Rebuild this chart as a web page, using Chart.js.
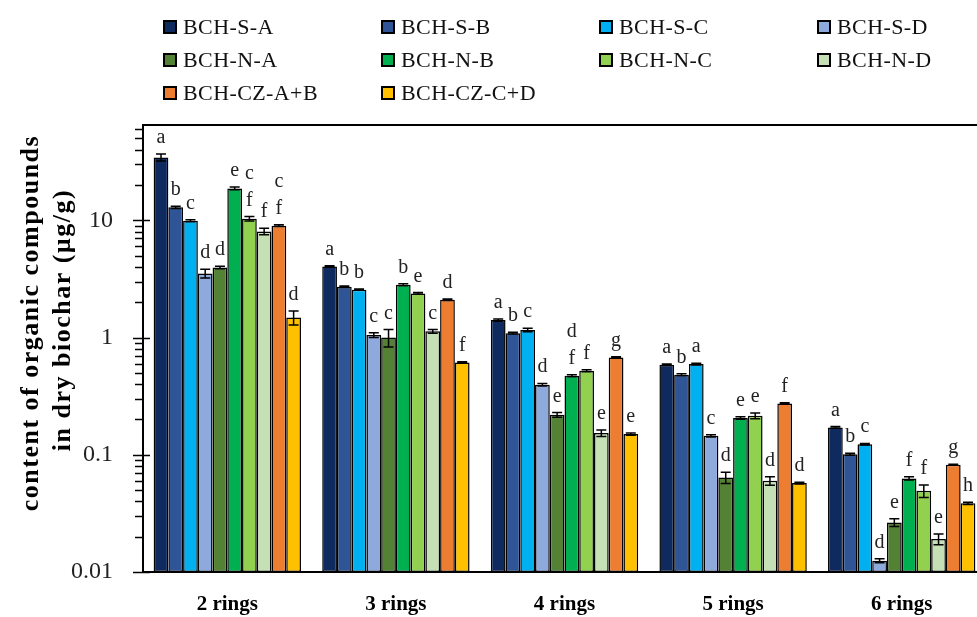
<!DOCTYPE html>
<html>
<head>
<meta charset="utf-8">
<script src="https://cdn.jsdelivr.net/npm/chart.js@4/dist/chart.umd.min.js"></script>
<style>
  html, body { margin: 0; padding: 0; background: #fff; overflow: hidden; width: 977px; height: 617px; }
  #wrap { position: relative; width: 1000px; height: 617px; }
  #c { position: absolute; left: 0; top: 0; }
  .lg { position: absolute; display: flex; align-items: center; height: 26px;
        font: 22px "Liberation Serif", serif; color: #111; white-space: nowrap; letter-spacing: 0.4px; }
  .lg i { display: inline-block; width: 10px; height: 10px; border: 2px solid #000; margin-right: 6px; }
</style>
</head>
<body>
<div id="wrap">
  <canvas id="c" width="1000" height="617"></canvas>
  <div id="legend"></div>
</div>
<script>
// PAH groups by number of aromatic rings
const categories = ['2 rings', '3 rings', '4 rings', '5 rings', '6 rings'];

// biochar samples
const seriesNames = ['BCH-S-A', 'BCH-S-B', 'BCH-S-C', 'BCH-S-D',
                     'BCH-N-A', 'BCH-N-B', 'BCH-N-C', 'BCH-N-D',
                     'BCH-CZ-A+B', 'BCH-CZ-C+D'];

// mean content, µg/g dry biochar
const valuesSA  = [34.4, 4.04, 1.41, 0.586, 0.171];
const valuesSB  = [12.9, 2.71, 1.09, 0.482, 0.101];
const valuesSC  = [9.9, 2.56, 1.16, 0.594, 0.123];
const valuesSD  = [3.52, 1.05, 0.396, 0.145, 0.0125];
const valuesNA  = [3.96, 1.0, 0.219, 0.064, 0.0265];
const valuesNB  = [18.7, 2.82, 0.472, 0.206, 0.0628];
const valuesNC  = [10.3, 2.38, 0.521, 0.215, 0.0493];
const valuesND  = [8.04, 1.13, 0.153, 0.060, 0.0191];
const valuesCZ1 = [9.0, 2.10, 0.676, 0.274, 0.0822];
const valuesCZ2 = [1.48, 0.613, 0.150, 0.0573, 0.0385];

// standard deviations
const errorsSA  = [2.3, 0.05, 0.03, 0.01, 0.003];
const errorsSB  = [0.3, 0.04, 0.02, 0.01, 0.002];
const errorsSC  = [0.2, 0.03, 0.04, 0.01, 0.002];
const errorsSD  = [0.3, 0.05, 0.01, 0.003, 0.0005];
const errorsNA  = [0.1, 0.17, 0.01, 0.007, 0.002];
const errorsNB  = [0.5, 0.05, 0.01, 0.005, 0.002];
const errorsNC  = [0.45, 0.04, 0.01, 0.012, 0.006];
const errorsND  = [0.5, 0.04, 0.01, 0.005, 0.002];
const errorsCZ1 = [0.15, 0.03, 0.01, 0.004, 0.001];
const errorsCZ2 = [0.2, 0.01, 0.003, 0.001, 0.0008];

// homogeneous groups (letters above the bars)
const lettersSA  = ['a', 'a', 'a', 'a', 'a'];
const lettersSB  = ['b', 'b', 'b', 'b', 'b'];
const lettersSC  = ['c', 'b', 'c', 'a', 'c'];
const lettersSD  = ['d', 'c', 'd', 'c', 'd'];
const lettersNA  = ['d', 'c', 'e', 'd', 'e'];
const lettersNB  = ['e', 'b', ['d', 'f'], 'e', 'f'];
const lettersNC  = [['c', 'f'], 'e', 'f', 'e', 'f'];
const lettersND  = ['f', 'c', 'e', 'd', 'e'];
const lettersCZ1 = [['c', 'f'], 'd', 'g', 'f', 'g'];
const lettersCZ2 = ['d', 'f', 'e', 'd', 'h'];

// y axis labelled decades
const yTickValues = [0.01, 0.1, 1, 10];
const yTickLabels = ['0.01', '0.1', '1', '10'];
const yTitleLines = ['content of organic compounds', 'in dry biochar (µg/g)'];

const seriesValues  = [valuesSA, valuesSB, valuesSC, valuesSD, valuesNA, valuesNB, valuesNC, valuesND, valuesCZ1, valuesCZ2];
const seriesErrors  = [errorsSA, errorsSB, errorsSC, errorsSD, errorsNA, errorsNB, errorsNC, errorsND, errorsCZ1, errorsCZ2];
const seriesLetters = [lettersSA, lettersSB, lettersSC, lettersSD, lettersNA, lettersNB, lettersNC, lettersND, lettersCZ1, lettersCZ2];
const seriesColors  = ['#0e2a5e', '#2f5597', '#00b0f0', '#8eaadc', '#548235',
                       '#00b050', '#92d050', '#c5e0b4', '#ed7d31', '#ffc000'];

const Y_MIN = 0.01, Y_MAX = 65;

// error bars, group letters, frame, axis ticks and the y title
const overlay = {
  id: 'overlay',
  afterDatasetsDraw(chart) {
    const ctx = chart.ctx, y = chart.scales.y;
    chart.data.datasets.forEach((ds, di) => {
      const meta = chart.getDatasetMeta(di);
      meta.data.forEach((bar, i) => {
        const v = ds.data[i], e = ds.errors[i];
        const yt = y.getPixelForValue(v + e);
        const yb = y.getPixelForValue(Math.max(v - e, Y_MIN));
        const hw = 5;
        ctx.save();
        ctx.strokeStyle = '#000';
        ctx.lineWidth = 1.5;
        ctx.beginPath();
        ctx.moveTo(bar.x, yt); ctx.lineTo(bar.x, yb);
        ctx.moveTo(bar.x - hw, yt); ctx.lineTo(bar.x + hw, yt);
        ctx.moveTo(bar.x - hw, yb); ctx.lineTo(bar.x + hw, yb);
        ctx.stroke();
        ctx.fillStyle = '#222';
        ctx.font = '20px "Liberation Serif", serif';
        ctx.textAlign = 'center';
        ctx.textBaseline = 'alphabetic';
        const ls = [].concat(ds.letters[i]).reverse();
        ls.forEach((t, k) => ctx.fillText(t, bar.x, yt - 11 - k * 27));
        ctx.restore();
      });
    });
  },
  afterDraw(chart) {
    const ctx = chart.ctx, a = chart.chartArea, y = chart.scales.y;
    ctx.save();
    ctx.strokeStyle = '#000';
    ctx.lineWidth = 2;
    ctx.beginPath();
    ctx.rect(a.left, a.top, a.right - a.left, a.bottom - a.top);
    ctx.stroke();
    // decade and minor tick marks on the log axis
    ctx.lineWidth = 1.5;
    ctx.beginPath();
    for (let n = -2; n <= 1; n++) {
      for (let k = 1; k <= 9; k++) {
        const val = k * Math.pow(10, n);
        if (val > Y_MAX) continue;
        const py = Math.round(y.getPixelForValue(val)) + 0.5;
        if (k === 1) { ctx.moveTo(a.left - 10, py); ctx.lineTo(a.left + 7, py); }
        else { ctx.moveTo(a.left - 8, py); ctx.lineTo(a.left, py); }
      }
    }
    ctx.stroke();
    // y axis title
    ctx.fillStyle = '#000';
    ctx.font = 'bold 26px "Liberation Serif", serif';
    ctx.textAlign = 'center';
    ctx.textBaseline = 'middle';
    try { ctx.letterSpacing = '1.5px'; } catch (err) {}
    ctx.translate(31, 323);
    ctx.rotate(-Math.PI / 2);
    ctx.fillText(yTitleLines[0], 0, 0);
    ctx.fillText(yTitleLines[1], 3, 32);
    ctx.restore();
  }
};

const chart = new Chart(document.getElementById('c'), {
  type: 'bar',
  data: {
    labels: categories,
    datasets: seriesNames.map((name, i) => ({
      label: name,
      data: seriesValues[i],
      errors: seriesErrors[i],
      letters: seriesLetters[i],
      backgroundColor: seriesColors[i],
      borderColor: '#000',
      borderWidth: 1.5,
      borderSkipped: false,
      categoryPercentage: 0.874,
      barPercentage: 1.0
    }))
  },
  options: {
    responsive: false,
    animation: false,
    layout: { padding: { left: 0, top: 125, right: 14, bottom: 0 } },
    plugins: { legend: { display: false }, tooltip: { enabled: false } },
    scales: {
      x: {
        grid: { display: false, drawTicks: false },
        border: { display: false },
        ticks: { color: '#000', padding: 20, font: { family: '"Liberation Serif", serif', size: 21, weight: 'bold' } },
        afterFit(scale) { scale.height = 45; }
      },
      y: {
        type: 'logarithmic',
        min: Y_MIN,
        max: Y_MAX,
        grid: { display: false, drawTicks: false },
        border: { display: false },
        ticks: {
          autoSkip: false,
          color: '#222',
          padding: 30,
          font: { family: '"Liberation Serif", serif', size: 24 },
          callback(value) {
            const idx = yTickValues.findIndex(t => Math.abs(t - value) / t < 1e-6);
            return idx >= 0 ? yTickLabels[idx] : '';
          }
        },
        afterFit(scale) { scale.width = 143; }
      }
    }
  },
  plugins: [overlay]
});

// legend in a four-column grid
const legend = document.getElementById('legend');
chart.data.datasets.forEach((ds, i) => {
  const col = i % 4, row = Math.floor(i / 4);
  const el = document.createElement('div');
  el.className = 'lg';
  el.style.left = (163 + col * 218) + 'px';
  el.style.top = (14 + row * 33) + 'px';
  const sw = document.createElement('i');
  sw.style.background = ds.backgroundColor;
  el.appendChild(sw);
  el.appendChild(document.createTextNode(ds.label));
  legend.appendChild(el);
});
</script>
</body>
</html>
